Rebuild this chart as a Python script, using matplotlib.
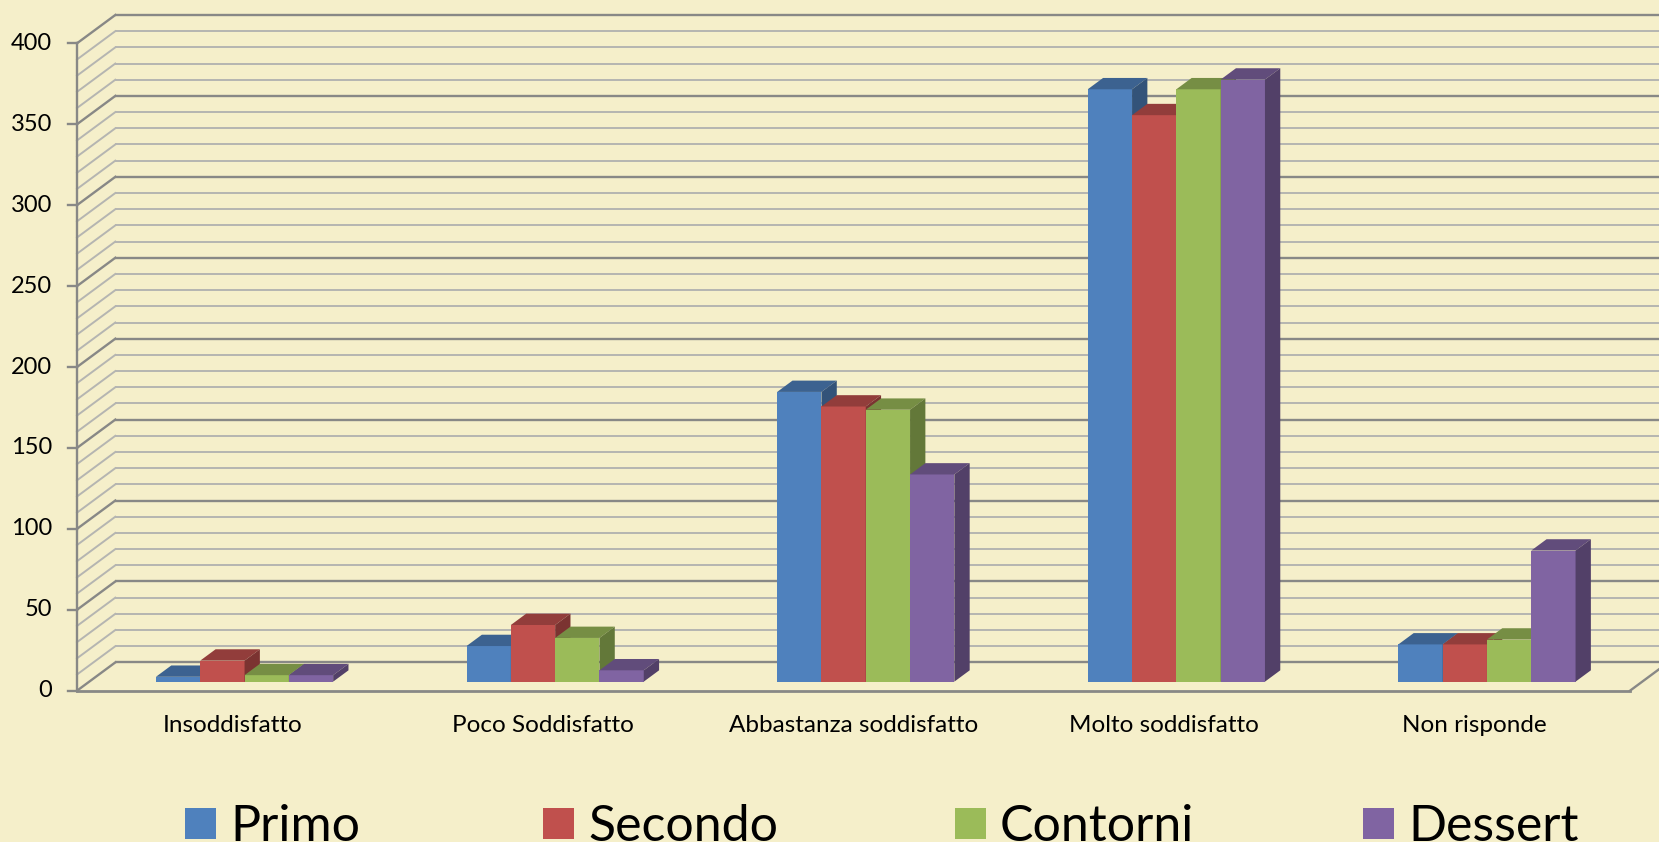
import matplotlib
matplotlib.use("Agg")
import matplotlib.pyplot as plt
from matplotlib.patches import Polygon, Rectangle
import numpy as np

plt.rcParams['font.family'] = ['Lato', 'DejaVu Sans']

categories = ["Insoddisfatto", "Poco Soddisfatto", "Abbastanza soddisfatto",
              "Molto soddisfatto", "Non risponde"]
series_names = ["Primo", "Secondo", "Contorni", "Dessert"]
primo = [3, 22, 179, 366, 23]
secondo = [13, 35, 170, 350, 23]
contorni = [4, 27, 168, 366, 26]
dessert = [4, 7, 128, 372, 81]
series_values = [primo, secondo, contorni, dessert]
colors = ["#4F81BD", "#C0504D", "#9BBB59", "#8064A2"]
y_ticks = [0, 50, 100, 150, 200, 250, 300, 350, 400]

BG = "#F5EFCA"
W_PX, H_PX = 1659, 842
fig = plt.figure(figsize=(W_PX / 100, H_PX / 100), dpi=100, facecolor=BG)
ax = fig.add_axes([0, 0, 1, 1])
ax.set_facecolor(BG)
ax.axis("off")

# pixel geometry -> data scales
cat_px = 310.6          # px per category
x_axis_px = 77.0        # front-left axis position
y0_px = 690.7           # value 0 (front) from top
val_px = 1.6185         # px per value unit
ax.set_xlim(-0.5 - x_axis_px / cat_px, -0.5 + (W_PX - x_axis_px) / cat_px)
ax.set_ylim(-(H_PX - y0_px) / val_px, y0_px / val_px)

DX = 38.3 / cat_px      # depth offset in x (category units)
DY = 28.3 / val_px      # depth offset in y (value units)
tf, tb = 0.32, 0.72     # bar front / back depth fraction
bw = 44.3 / cat_px      # bar width
ncat = len(categories)
x_left_axis = -0.5
x_right_axis = ncat - 0.5

def shade(c, f):
    r, g, b = matplotlib.colors.to_rgb(c)
    return (r * f, g * f, b * f)

# gridlines: back wall + left wall
minor_c, major_c = "#B5B5B1", "#888886"
for v in range(0, 401, 10):
    major = (v % 50 == 0)
    col = major_c if major else minor_c
    lw = 1.7 if major else 1.4
    ax.plot([x_left_axis + DX, x_right_axis + DX + 1], [v + DY, v + DY],
            color=col, lw=lw, zorder=1, solid_capstyle="butt")
    ax.plot([x_left_axis, x_left_axis + DX], [v, v + DY],
            color=col, lw=lw, zorder=1)

# front-left vertical axis
ax.plot([x_left_axis, x_left_axis], [0, 400], color="#888886", lw=1.7, zorder=2)
# floor front edge and right edge
ax.plot([x_left_axis, x_right_axis], [0, 0], color="#888886", lw=2.0, zorder=2)
ax.plot([x_right_axis, x_right_axis + DX], [0, DY], color="#888886", lw=1.7, zorder=2)

# ticks and tick labels
tick_len = 9 / cat_px
for t in y_ticks:
    ax.plot([x_left_axis - tick_len, x_left_axis], [t, t], color="#888886", lw=1.7, zorder=2)
    ax.text(x_left_axis - 25 / cat_px, t, str(t), ha="right", va="center",
            fontsize=17, color="black", zorder=5)

# bars
ddx = (tb - tf) * DX
ddy = (tb - tf) * DY
base = tf * DY
z = 3
for i in range(ncat):
    for k, vals in enumerate(series_values):
        v = vals[i]
        xl = i + tf * DX + (k - 2) * bw
        c = colors[k]
        ax.bar(xl, v, width=bw, bottom=base, align="edge", color=c,
               edgecolor="none", zorder=z)
        top = Polygon([(xl, base + v), (xl + bw, base + v),
                       (xl + bw + ddx, base + v + ddy), (xl + ddx, base + v + ddy)],
                      closed=True, facecolor=shade(c, 0.76), edgecolor="none", zorder=z)
        side = Polygon([(xl + bw, base), (xl + bw + ddx, base + ddy),
                        (xl + bw + ddx, base + v + ddy), (xl + bw, base + v)],
                       closed=True, facecolor=shade(c, 0.64), edgecolor="none", zorder=z)
        ax.add_patch(top)
        ax.add_patch(side)
        z += 1

# category labels
for i, cat in enumerate(categories):
    ax.text(i, -(726 - y0_px) / val_px, cat, ha="center", va="center",
            fontsize=17.5, color="black")

# legend (manual)
leg_sq_px = [185, 543, 955, 1363]
sq = 31
for k, name in enumerate(series_names):
    fx = leg_sq_px[k] / W_PX
    fy = (H_PX - 808 - sq) / H_PX
    fig.patches.append(Rectangle((fx, fy), sq / W_PX, sq / H_PX,
                                 transform=fig.transFigure, facecolor=colors[k],
                                 edgecolor="none"))
    fig.text((leg_sq_px[k] + sq + 14) / W_PX, (H_PX - 841) / H_PX, name,
             ha="left", va="baseline", fontsize=36, color="black")

fig.savefig("out.png", dpi=100, facecolor=BG)
